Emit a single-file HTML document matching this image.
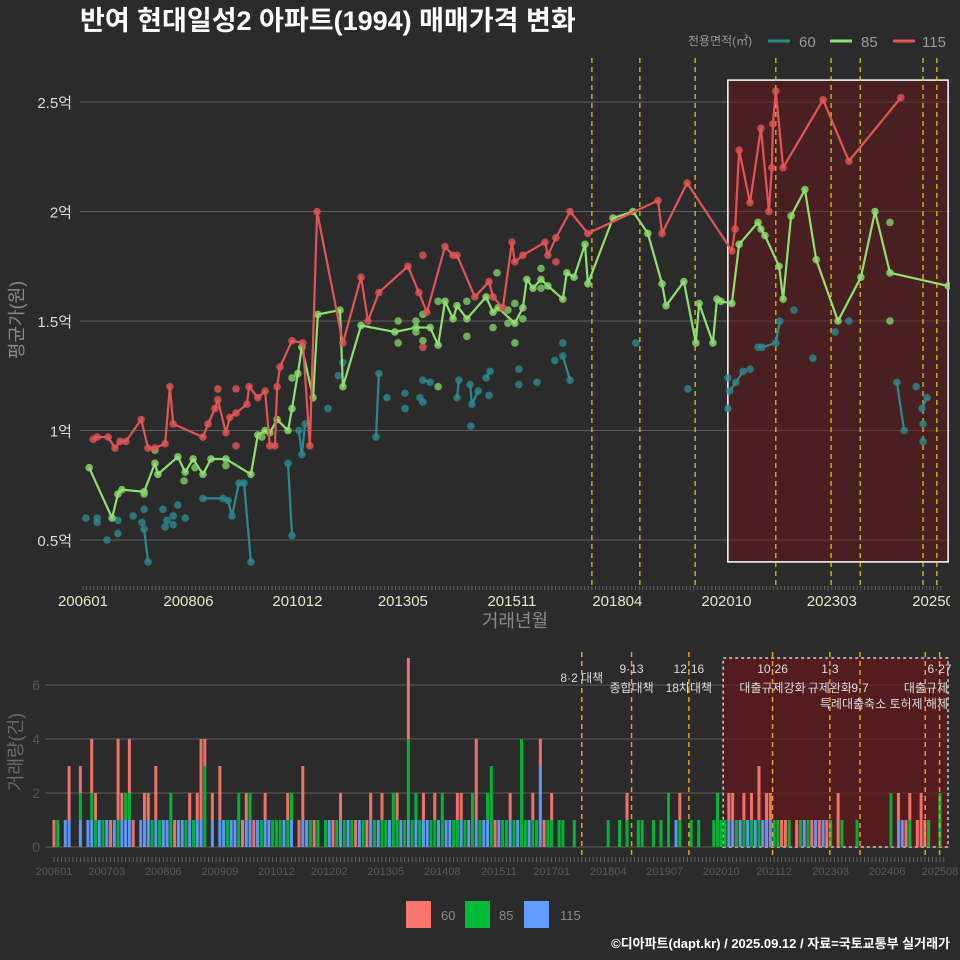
<!DOCTYPE html>
<html><head><meta charset="utf-8">
<style>
html,body{margin:0;padding:0;background:#2b2b2b;}
svg{display:block;font-family:"Liberation Sans","Noto Sans CJK KR",sans-serif;}
</style></head>
<body>
<svg id="chart" width="960" height="960" viewBox="0 0 960 960">
<rect x="0" y="0" width="960" height="960" fill="#2b2b2b"/>
<text x="80" y="30" font-size="27" font-weight="bold" fill="#ffffff">반여 현대일성2 아파트(1994) 매매가격 변화</text>
<g>
<text x="688" y="45" font-size="12" fill="#9a9a9a">전용면적(㎡)</text>
<line x1="768" y1="41" x2="790" y2="41" stroke="#2b8a8f" stroke-width="3"/>
<text x="799" y="47" font-size="15" fill="#9a9a9a">60</text>
<line x1="830" y1="41" x2="852" y2="41" stroke="#8fe070" stroke-width="3"/>
<text x="861" y="47" font-size="15" fill="#9a9a9a">85</text>
<line x1="893" y1="41" x2="915" y2="41" stroke="#e35555" stroke-width="3"/>
<text x="922" y="47" font-size="15" fill="#9a9a9a">115</text>
</g>
<g id="topChart"></g>
<g id="botChart"></g>
<g>
<rect x="406" y="901" width="25" height="27" fill="#f8766d"/>
<text x="441" y="920" font-size="13" fill="#8a8a8a">60</text>
<rect x="465" y="901" width="25" height="27" fill="#00ba38"/>
<text x="499" y="920" font-size="13" fill="#8a8a8a">85</text>
<rect x="524" y="901" width="25" height="27" fill="#619cff"/>
<text x="560" y="920" font-size="13" fill="#8a8a8a">115</text>
</g>
<text x="950" y="948" font-size="13" font-weight="bold" fill="#ffffff" text-anchor="end">©디아파트(dapt.kr) / 2025.09.12 / 자료=국토교통부 실거래가</text>
</svg>
<script>
const redM=[2.8,3.9,6.9,8.8,10.2,11.8,16.0,17.9,19.8,22.6,23.9,24.8,33.0,34.4,36.3,37.1,39.3,40.4,42.1,45.1,45.7,48.1,50.1,51.4,52.8,53.4,54.2,57.5,60.5,62.4,64.4,71.5,76.5,78.4,81.4,89.4,92.4,94.6,99.6,101.8,102.9,107.8,111.7,112.8,115.5,118.0,118.8,121.0,127.1,127.9,130.1,134.0,138.9,158.2,159.3,166.2,178.5,179.4,180.5,183.5,186.5,188.7,189.5,189.8,190.6,192.6,203.6,210.7,225.0];
const redV=[0.96,0.97,0.97,0.92,0.95,0.95,1.05,0.92,0.92,0.94,1.20,1.03,0.97,1.03,1.10,1.14,0.99,1.06,1.08,1.12,1.20,1.15,1.18,0.93,0.93,1.20,1.29,1.41,1.40,0.93,2.00,1.40,1.70,1.50,1.63,1.75,1.63,1.54,1.84,1.80,1.80,1.61,1.68,1.61,1.56,1.86,1.77,1.80,1.86,1.80,1.88,2.00,1.90,2.05,1.90,2.13,1.82,1.92,2.28,2.04,2.38,2.00,2.20,2.40,2.55,2.20,2.51,2.23,2.52];
const redDotM=[93.5,93.5,130.1,37.1,42.1,42.1];
const redDotV=[1.80,1.38,1.77,1.19,1.19,0.93];
const grnM=[1.7,8.0,9.6,10.7,16.8,19.8,20.6,26.1,28.1,30.3,33.0,35.2,39.3,46.2,48.1,50.1,51.4,53.4,56.4,57.5,59.1,60.2,63.3,64.6,70.7,71.5,76.5,85.8,91.6,95.5,97.7,99.6,101.8,102.9,105.6,110.9,112.8,114.2,118.8,121.0,122.1,123.8,126.0,127.9,132.0,133.1,135.1,138.1,138.9,145.8,151.3,155.4,159.3,160.4,165.3,168.6,169.5,173.3,174.4,175.5,178.5,180.5,185.7,186.5,187.6,191.5,192.6,194.8,198.6,201.7,207.7,214.0,217.9,222.0,238.0];
const grnV=[0.83,0.60,0.71,0.73,0.72,0.85,0.80,0.88,0.81,0.87,0.80,0.87,0.87,0.80,0.98,1.00,0.99,1.05,1.00,1.10,1.26,1.38,1.15,1.53,1.55,1.20,1.48,1.45,1.47,1.47,1.39,1.59,1.51,1.57,1.51,1.61,1.54,1.56,1.49,1.56,1.69,1.65,1.69,1.66,1.60,1.72,1.70,1.85,1.67,1.97,2.00,1.90,1.67,1.57,1.68,1.40,1.58,1.40,1.60,1.59,1.58,1.85,1.95,1.92,1.89,1.75,1.60,1.98,2.10,1.78,1.50,1.70,2.00,1.72,1.66];
const grnDotM=[86.7,86.7,91.6,91.6,93.5,93.5,97.7,105.6,105.6,113.9,112.8,116.9,116.9,118.8,118.8,121.0,126.0,126.0,97.7,19.8,16.8,27.8,30.8,39.3,49.2,57.5,222.0,222.0];
const grnDotV=[1.50,1.40,1.50,1.45,1.41,1.53,1.59,1.59,1.43,1.72,1.47,1.55,1.49,1.40,1.58,1.51,1.74,1.65,1.20,0.91,0.71,0.77,0.83,0.84,0.97,1.24,1.95,1.50];
const tealSegM=[[16.8,17.9],[33.0,38.5,39.9,41.0,42.9,44.3,46.2],[56.4,57.5],[59.4,60.2,61.1],[80.6,81.4],[93.5,95.5],[102.9,103.4],[106.5,107.0,108.7],[110.9,112.0],[132.0,134.0],[177.9,179.6,181.6],[185.7,186.8,190.6,191.7],[223.9,225.9],[230.8,232.2]];
const tealSegV=[[0.55,0.40],[0.69,0.69,0.68,0.61,0.76,0.76,0.40],[0.85,0.52],[1.00,0.89,1.03],[0.97,1.26],[1.23,1.22],[1.15,1.23],[1.21,1.12,1.18],[1.24,1.27],[1.34,1.23],[1.18,1.22,1.27],[1.38,1.38,1.40,1.50],[1.22,1.00],[1.10,1.15]];
const tealDotM=[0.8,3.9,3.9,6.6,9.6,9.6,13.8,16.2,16.8,22.0,22.6,23.1,24.8,24.8,26.1,28.1,67.4,70.2,71.5,83.6,88.6,88.6,92.7,93.5,106.7,111.7,119.9,119.9,124.9,129.8,132.0,152.1,166.4,177.4,177.4,183.5,195.6,200.8,206.9,210.7,229.2,231.1,231.1];
const tealDotV=[0.60,0.60,0.58,0.50,0.59,0.53,0.61,0.58,0.64,0.64,0.56,0.59,0.61,0.57,0.66,0.60,1.10,1.25,1.31,1.15,1.17,1.10,1.15,1.13,1.02,1.16,1.28,1.21,1.22,1.32,1.40,1.40,1.19,1.24,1.10,1.28,1.55,1.33,1.45,1.50,1.20,1.03,0.95];
const priceTicks=[0.5,1,1.5,2,2.5];
const priceTickLabels=["0.5억","1억","1.5억","2억","2.5억"];
const topXTicks=[0,29,59,88,118,147,177,206,235];
const topXLabels=["200601","200806","201012","201305","201511","201804","202010","202303","202508"];
const eventM=[140,153.2,168.4,190.6,205.8,213.8,231.1,234.9];
const c115=[0,0,0,1,1,0,0,1,0,1,1,0, 1,0,1,0,1,0,1,1,1,0,0,1, 1,1,0,1,0,1,1,0,0,1,1,0, 1,0,1,1,0,0,1,0,1,1,0,1, 1,0,0,1,1,0,1,0,1,1,0,0, 0,1,0,1,0,0,1,1,0,0,0,0, 0,1,0,0,1,0,1,0,0,1,0,0, 1,0,1,0,0,1,0,0,1,0,1,0, 1,0,1,1,0,0,1,0,1,1,0,0, 1,0,1,0,1,0,1,1,0,0,1,0, 0,1,0,1,0,0,1,0,0,3,0,0, 0,0,0,0,0,0,0,0,0,0,0,0, 0,0,0,0,0,0,0,0,0,0,0,0, 0,0,0,0,0,0,0,0,0,1,0,0, 0,0,0,0,0,0,0,0,0,0,0,1, 1,0,1,0,1,0,1,0,1,1,1,0, 0,0,0,0,0,0,0,1,0,0,1,0, 1,0,0,0,0,0,0,0,0,0,0,0, 0,0,0,0,0,0,0,0,1,1,0,0, 0,0,0,0,0,0,0,0];
const c85=[0,1,0,0,0,0,0,1,0,0,1,1, 0,1,0,0,0,1,0,1,1,0,0,0, 0,0,1,0,1,0,0,2,0,0,0,1, 0,1,0,0,3,0,0,0,0,0,1,0, 0,2,0,0,1,0,0,1,0,0,1,1, 1,0,1,1,0,0,0,0,1,0,1,0, 1,0,0,1,0,1,0,1,0,0,1,0, 0,1,0,1,1,0,2,1,0,1,3,1, 1,1,0,0,1,1,0,2,0,0,1,1, 0,1,0,2,0,1,0,1,3,0,0,1, 1,0,1,0,4,1,0,1,1,0,0,1, 1,0,1,1,0,0,1,0,0,0,0,0, 0,0,0,1,0,0,1,0,1,0,0,1, 1,0,0,1,0,1,0,2,0,0,1,0, 0,1,0,1,0,0,0,1,2,1,1,0, 0,1,0,1,0,1,0,1,0,0,0,1, 1,0,0,1,0,0,1,0,1,0,0,0, 0,0,1,0,0,1,0,0,0,1,0,0, 0,0,0,0,0,0,2,0,0,0,0,1, 0,0,0,0,1,0,0,2];
const c60=[1,0,0,0,2,0,0,1,0,0,2,1, 0,0,0,1,0,3,1,0,2,1,0,0, 1,1,0,2,0,0,0,0,1,0,0,0, 1,0,1,3,1,0,1,0,2,0,0,0, 0,0,1,1,0,1,0,0,1,0,0,0, 0,0,1,0,0,1,2,0,0,1,0,0, 0,0,1,0,1,0,0,0,1,0,0,1, 1,0,0,1,0,0,0,1,0,0,3,0, 0,0,1,0,0,1,0,0,0,0,0,1, 1,0,0,0,3,0,0,0,0,1,0,0, 0,1,0,0,0,0,0,1,0,1,1,0, 1,0,0,0,0,0,0,0,0,0,0,0, 0,0,0,0,0,0,0,0,1,0,0,0, 0,0,0,0,0,0,0,0,0,0,1,0, 0,0,0,0,0,0,0,0,0,0,0,1, 1,0,0,1,0,1,0,2,0,1,1,0, 0,1,1,0,0,1,0,0,0,1,0,1, 0,1,0,0,2,0,0,0,0,0,0,0, 0,0,0,0,0,0,0,0,1,0,1,1, 0,1,2,1,0,0,0,0];
const volTicks=[0,2,4,6];
const botXTicks=[0,14,29,44,59,73,88,103,118,132,147,162,177,191,206,221,235];
const botXLabels=["200601","200703","200806","200909","201012","201202","201305","201408","201511","201701","201804","201907","202010","202112","202303","202406","202508"];
const eventLabel1=["8·2 대책","9·13","12·16","10·26","1·3","","","6·27"];
const eventLabel2=["","종합대책","18차대책","대출규제강화","규제완화","9·7","","대출규제"];

const NS="http://www.w3.org/2000/svg";
function mk(parent,tag,attrs){const e=document.createElementNS(NS,tag);for(const k in attrs)e.setAttribute(k,attrs[k]);parent.appendChild(e);return e;}
const tx=m=>83+m*3.635;
const ty=v=>540-(v-0.5)*219;
const bx=m=>54+m*3.77;
const byy=c=>847-c*27;

const topG=document.getElementById('topChart');
const svgRoot=document.getElementById('chart');
const defs=mk(svgRoot,'defs',{});
const cp=mk(defs,'clipPath',{id:'clipTop'});mk(cp,'rect',{x:80,y:55,width:870,height:530});
const cp2=mk(defs,'clipPath',{id:'clipBot'});mk(cp2,'rect',{x:45,y:650,width:905,height:205});
const cp3=mk(defs,'clipPath',{id:'clipAll'});mk(cp3,'rect',{x:0,y:0,width:950,height:960});
topG.setAttribute('clip-path','url(#clipAll)');

priceTicks.forEach((v,i)=>{
  const l=mk(topG,'line',{x1:80,x2:950,y1:ty(v),y2:ty(v),stroke:'#5c5c5c','stroke-width':1});
  
  
  const t=mk(topG,'text',{x:72,y:ty(v)+6,'font-size':15,fill:'#dcdcdc','text-anchor':'end'});
  t.textContent=priceTickLabels[i];
  
  
});
const hl=mk(topG,'rect',{x:tx(177.4),y:ty(2.60),width:tx(238)-tx(177.4),height:ty(0.40)-ty(2.60),fill:'rgba(110,20,25,0.45)',stroke:'#ffffff','stroke-width':1.5});


eventM.forEach(m=>{
  const l=mk(topG,'line',{x1:tx(m),x2:tx(m),y1:58,y2:585,stroke:'#e0d020','stroke-width':1.2,'stroke-dasharray':'5,4'});
  
  
});
const tg=mk(topG,'g',{'clip-path':'url(#clipTop)'});
function drawLine(ms,vs,col,name){
  const p=mk(tg,'polyline',{points:ms.map((m,i)=>tx(m)+','+ty(vs[i])).join(' '),fill:'none',stroke:col,'stroke-width':2.2,'stroke-linejoin':'round'});
  
  
}
function drawDots(ms,vs,col,name){
  ms.forEach((m,i)=>{
    const c=mk(tg,'circle',{cx:tx(m),cy:ty(vs[i]),r:3.8,fill:col,'fill-opacity':0.8});
    
    
  });
}
tealSegM.forEach((seg,k)=>{drawLine(seg,tealSegV[k],'#2b8a8f','line-60');drawDots(seg,tealSegV[k],'#2b8a8f','point-60');});
drawDots(tealDotM,tealDotV,'#2b8a8f','point-60');
drawLine(grnM,grnV,'#8fe070','line-85');drawDots(grnM,grnV,'#8fe070','point-85');drawDots(grnDotM,grnDotV,'#7fcf68','point-85');
drawLine(redM,redV,'#e35555','line-115');drawDots(redM,redV,'#e35555','point-115');drawDots(redDotM,redDotV,'#e35555','point-115');
for(let m=0;m<=236;m++){
  const t=mk(topG,'line',{x1:tx(m),x2:tx(m),y1:586,y2:590,stroke:'#666','stroke-width':1});
  
  
}
topXTicks.forEach((m,i)=>{
  const t=mk(topG,'text',{x:tx(m),y:606,'font-size':15,fill:'#e6e6c8','text-anchor':'middle'});
  t.textContent=topXLabels[i];
  
  
});
const xt=mk(topG,'text',{x:515,y:627,'font-size':18,fill:'#8a8a8a','text-anchor':'middle'});xt.textContent='거래년월';


const yt=mk(topG,'text',{x:0,y:0,'font-size':18,fill:'#8a8a8a','text-anchor':'middle',transform:'translate(23,320) rotate(-90)'});yt.textContent='평균가(원)';



const botG=document.getElementById('botChart');
volTicks.forEach(v=>{
  const l=mk(botG,'line',{x1:45,x2:950,y1:byy(v),y2:byy(v),stroke:'#5c5c5c','stroke-width':1});
  
  
  const t=mk(botG,'text',{x:40,y:byy(v)+5,'font-size':14,fill:'#555','text-anchor':'end'});t.textContent=v;
  
  
});
const hb=mk(botG,'rect',{x:bx(177.5),y:658,width:948-bx(177.5),height:byy(0)-658,fill:'rgba(110,20,25,0.6)',stroke:'#cccccc','stroke-width':1.5,'stroke-dasharray':'3,3'});


const bg=mk(botG,'g',{'clip-path':'url(#clipBot)'});
const stackSeries=[[c115,'#619cff','bar-115'],[c85,'#00ba38','bar-85'],[c60,'#f8766d','bar-60']];
for(let m=0;m<c60.length;m++){
  let base=0;
  stackSeries.forEach(s=>{
    const v=s[0][m]||0; if(!v)return;
    const r=mk(bg,'rect',{x:bx(m)-1.5,y:byy(base+v),width:3,height:v*27,fill:s[1],'fill-opacity':0.95});
    
    
    base+=v;
  });
}
eventM.forEach((m,i)=>{
  const l=mk(botG,'line',{x1:bx(m),x2:bx(m),y1:652,y2:855,stroke:'#e8a020','stroke-width':1.5,'stroke-dasharray':'5,4'});
  
  
  if(eventLabel1[i]){const t=mk(botG,'text',{x:bx(m),y:i===0?682:673,'font-size':12,fill:'#dddddd','text-anchor':'middle'});t.textContent=eventLabel1[i];
    
    }
  if(eventLabel2[i]){const t=mk(botG,'text',{x:i===7?948:bx(m),y:692,'font-size':12,fill:'#dddddd','text-anchor':i===7?'end':'middle'});t.textContent=eventLabel2[i];
    
    }
});
const el3=mk(botG,'text',{x:948,y:708,'font-size':12,fill:'#dddddd','text-anchor':'end'});el3.textContent='특례대출축소 토허제 해제';


for(let m=0;m<=236;m++){
  const t=mk(botG,'line',{x1:bx(m),x2:bx(m),y1:857,y2:862,stroke:'#666','stroke-width':1});
  
  
}
botXTicks.forEach((m,i)=>{
  const t=mk(botG,'text',{x:bx(m),y:875,'font-size':11,fill:'#5a5a5a','text-anchor':'middle'});t.textContent=botXLabels[i];
  
  
});
const yt2=mk(botG,'text',{x:0,y:0,'font-size':18,fill:'#6a6a6a','text-anchor':'middle',transform:'translate(22,752) rotate(-90)'});yt2.textContent='거래량(건)';


</script>
</body></html>
